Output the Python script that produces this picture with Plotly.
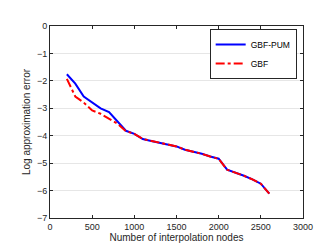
import plotly.graph_objects as go

nodes = [200, 300, 400, 500, 600, 700, 800, 900, 1000, 1100, 1200, 1300, 1400,
         1500, 1600, 1700, 1800, 1900, 2000, 2100, 2200, 2300, 2400, 2500, 2600]
gbf_pum = [-1.76, -2.10, -2.57, -2.79, -3.00, -3.14, -3.50, -3.82, -3.93, -4.12, -4.19,
           -4.26, -4.31, -4.39, -4.51, -4.58, -4.66, -4.76, -4.84, -5.24, -5.34, -5.46,
           -5.59, -5.75, -6.11]
gbf = [-1.93, -2.57, -2.79, -3.08, -3.20, -3.38, -3.56, -3.83, -3.93, -4.12, -4.19,
       -4.26, -4.31, -4.39, -4.51, -4.58, -4.66, -4.76, -4.84, -5.24, -5.34, -5.46,
       -5.59, -5.75, -6.11]

font = "Liberation Sans, Arial, sans-serif"
fig = go.Figure()
fig.add_trace(go.Scatter(x=nodes, y=gbf_pum, mode="lines", name="GBF-PUM",
                         line=dict(color="#0000ff", width=2)))
fig.add_trace(go.Scatter(x=nodes, y=gbf, mode="lines", name="GBF",
                         line=dict(color="#ff0000", width=2, dash="dashdot")))

axis_common = dict(showline=True, linecolor="#262626", linewidth=1, mirror="allticks",
                   ticks="inside", ticklen=3, tickcolor="#262626",
                   tickfont=dict(family=font, size=9, color="#262626"), zeroline=False)
fig.update_xaxes(range=[0, 3000], tickvals=[0, 500, 1000, 1500, 2000, 2500, 3000],
                 showgrid=False,
                 title=dict(text="Number of interpolation nodes", standoff=2,
                            font=dict(family=font, size=10, color="#262626")),
                 **axis_common)
fig.update_yaxes(range=[-7, 0], tickvals=[0, -1, -2, -3, -4, -5, -6, -7],
                 showgrid=True, gridcolor="#e6e6e6", gridwidth=1,
                 title=dict(text="Log approximation error", standoff=4,
                            font=dict(family=font, size=10, color="#262626")),
                 **axis_common)
fig.update_layout(width=327, height=245, margin=dict(l=42, r=32, t=18, b=30),
                  paper_bgcolor="white", plot_bgcolor="white", showlegend=True,
                  legend=dict(x=0.975, y=0.985, xanchor="right", yanchor="top",
                              bgcolor="white", bordercolor="#262626", borderwidth=1,
                              font=dict(family=font, size=8.5, color="black"),
                              itemwidth=30, tracegroupgap=0))
fig.write_html("out.html")
